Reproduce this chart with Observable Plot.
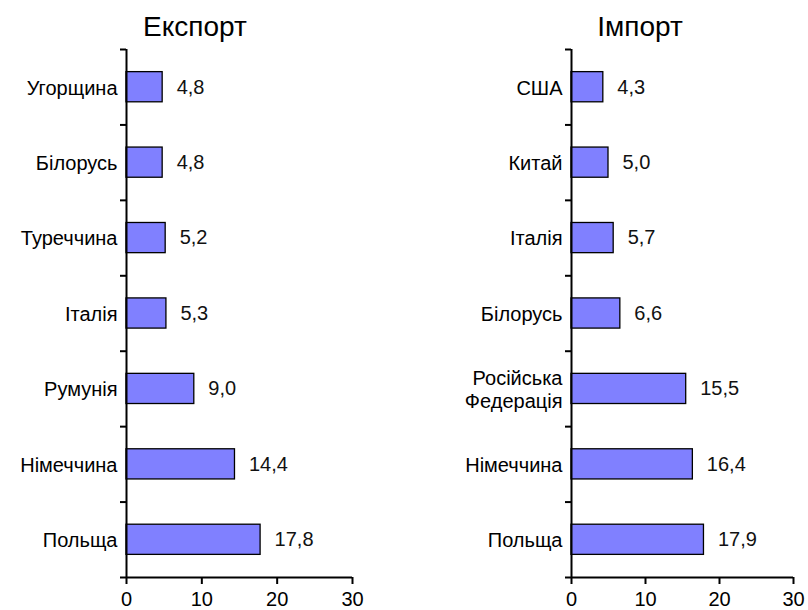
<!DOCTYPE html>
<html>
<head>
<meta charset="utf-8">
<script src="https://cdn.jsdelivr.net/npm/d3@7"></script>
<script src="https://cdn.jsdelivr.net/npm/@observablehq/plot@0.6"></script>
<style>
  body { margin: 0; background: #fff; font-family: "Liberation Sans", Arial, sans-serif; }
  #wrap { position: relative; width: 808px; height: 610px; }
  .panel { position: absolute; top: 0; width: 404px; height: 610px; }
  .title { position: relative; height: 40px; }
  .title span { position: absolute; top: 13px; transform: translateX(-50%); font-size: 28px; line-height: 1; color: #000; white-space: nowrap; }
  svg { display: block; overflow: visible; }
</style>
</head>
<body>
<div id="wrap">
  <div class="panel" id="left" style="left:0"><div class="title"><span style="left:195px">Експорт</span></div></div>
  <div class="panel" id="right" style="left:404px"><div class="title"><span style="left:236px">Імпорт</span></div></div>
</div>
<script>
const exportCountries = ["Угорщина", "Білорусь", "Туреччина", "Італія", "Румунія", "Німеччина", "Польща"];
const exportValues = [4.8, 4.8, 5.2, 5.3, 9.0, 14.4, 17.8];
const importCountries = ["США", "Китай", "Італія", "Білорусь", "Російська\nФедерація", "Німеччина", "Польща"];
const importValues = [4.3, 5.0, 5.7, 6.6, 15.5, 16.4, 17.9];
const xTicks = [0, 10, 20, 30];
const barColor = "#8080ff";

const fmt = v => d3.format(".1f")(v).replace(".", ",");

function panel(countries, values, marginLeft, marginRight) {
  const n = countries.length;
  const data = countries.map((c, i) => ({country: c, value: values[i], i}));
  return Plot.plot({
    width: 404,
    height: 570,
    marginTop: 9,
    marginBottom: 33,
    marginLeft,
    marginRight,
    style: {fontFamily: "'Liberation Sans', Arial, sans-serif", fontSize: "20px", color: "#000", background: "#fff", overflow: "visible"},
    x: {domain: [0, 30]},
    y: {domain: [0, n], reverse: true},
    marks: [
      Plot.rectX(data, {x1: 0, x2: "value", y1: d => d.i + 0.3, y2: d => d.i + 0.7, fill: barColor, stroke: "#000", strokeWidth: 1.3}),
      Plot.text(data, {x: "value", y: d => d.i + 0.5, text: d => fmt(d.value), textAnchor: "start", dx: 14, fontSize: 20, fill: "#111"}),
      Plot.ruleX([0], {stroke: "#000", strokeWidth: 2}),
      Plot.ruleY([n], {stroke: "#000", strokeWidth: 2}),
      Plot.axisY({ticks: d3.range(n + 1), tickSize: 6, tickFormat: () => "", label: null, strokeWidth: 2}),
      Plot.axisY({ticks: d3.range(n).map(i => i + 0.5), tickSize: 0, tickPadding: 9, tickFormat: v => countries[Math.floor(v)], label: null, fontSize: 20, lineHeight: 1.15, fill: "#000"}),
      Plot.axisX({ticks: xTicks, tickSize: 7, tickPadding: 7, label: null, strokeWidth: 2, fontSize: 20, fill: "#000"})
    ]
  });
}

document.getElementById("left").append(panel(exportCountries, exportValues, 126, 52));
document.getElementById("right").append(panel(importCountries, importValues, 167, 15));
</script>
</body>
</html>
